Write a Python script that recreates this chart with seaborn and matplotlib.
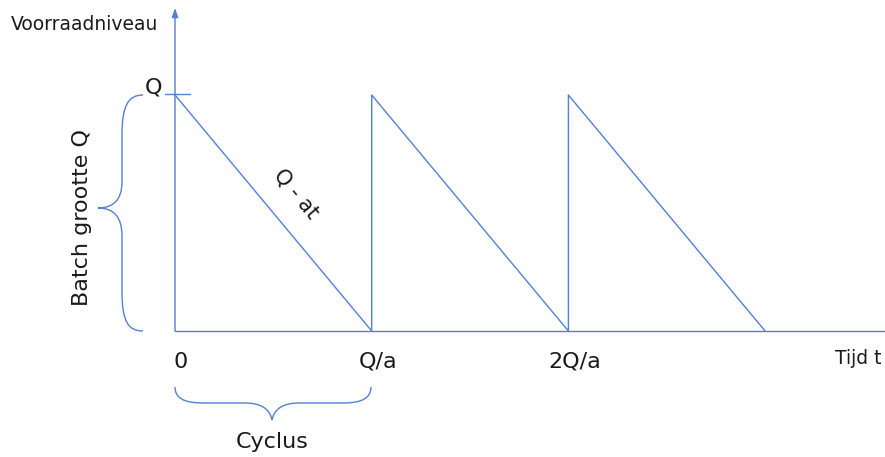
import numpy as np
import pandas as pd
import seaborn as sns
import matplotlib
matplotlib.use("Agg")
import matplotlib.pyplot as plt
from matplotlib.path import Path
from matplotlib.patches import PathPatch
from matplotlib.transforms import Affine2D

# ---- data (x in units of Q/a, y in units of Q) ----
saw_x = [0, 1, 1, 2, 2, 3]
saw_y = [1, 0, 1, 0, 1, 0]
tick_pos = [0, 1, 2]
tick_labels = ["0", "Q/a", "2Q/a"]

W, H = 885, 457
BLUE = "#5480D4"

sns.set_theme(style="white")
plt.rcParams['font.family'] = ['DejaVu Sans']

fig = plt.figure(figsize=(W / 100, H / 100), dpi=100)
ax = fig.add_axes([0, 0, 1, 1])
# pixel mapping: x_px = 175 + 196.7*x ; y_px = 331 - 236*y
ax.set_xlim(-175 / 196.7, (W - 175) / 196.7)
ax.set_ylim((331 - H) / 236, 331 / 236)
ax.axis("off")

df = pd.DataFrame({"t": saw_x, "voorraad": saw_y})
sns.lineplot(data=df, x="t", y="voorraad", sort=False, estimator=None,
             color=BLUE, lw=1.0, ax=ax)

# pixel transform for annotations (origin top-left)
px = Affine2D().scale(1 / W, -1 / H).translate(0, 1) + fig.transFigure

# axes lines
ax.plot([0, (W - 175) / 196.7], [0, 0], color=BLUE, lw=1.0)
ax.annotate("", xy=(175, 8), xycoords=px, xytext=(175, 331), textcoords=px,
            arrowprops=dict(arrowstyle="-|>,head_length=0.45,head_width=0.16",
                            color=BLUE, lw=1.0, shrinkA=0, shrinkB=0))
# Q tick
ax.plot([165, 190], [94, 94], color=BLUE, lw=1.0, transform=px)

# braces
def brace_patch(verts, codes):
    return PathPatch(Path(verts, codes), fill=False, edgecolor=BLUE, lw=1.0,
                     transform=px)

C, L, M = Path.CURVE4, Path.LINETO, Path.MOVETO
lc = [M, C, C, C, L, C, C, C, C, C, C, L, C, C, C]
lv = [(143, 95), (128, 95), (122, 106), (122, 135),
      (122, 182),
      (122, 200), (113, 208), (98, 208),
      (113, 208), (122, 216), (122, 236),
      (122, 292),
      (122, 321), (128, 331), (143, 331)]
ax.add_patch(brace_patch(lv, lc))

bv = [(175, 387), (175, 398), (184, 403), (203, 403),
      (245, 403),
      (261, 403), (270, 409), (272, 420),
      (274, 409), (283, 403), (299, 403),
      (343, 403),
      (362, 403), (371, 398), (371, 387)]
ax.add_patch(brace_patch(bv, lc))

# texts
txt = "#1a1a1a"
ax.text(11, 25, "Voorraadniveau", transform=px, fontsize=13.5, color=txt,
        ha="left", va="center")
ax.text(154, 88, "Q", transform=px, fontsize=16, color=txt, ha="center", va="center")
for p, lab in zip(tick_pos, tick_labels):
    ax.text(p + 0.03, (331 - 362) / 236, lab, fontsize=16, color=txt,
            ha="center", va="center")
ax.text(858, 358, "Tijd t", transform=px, fontsize=13.5, color=txt,
        ha="center", va="center")
ax.text(272, 442, "Cyclus", transform=px, fontsize=16, color=txt,
        ha="center", va="center")
ax.text(82, 218, "Batch grootte Q", transform=px, fontsize=16, color=txt,
        ha="center", va="center", rotation=90)
ax.text(296, 194, "Q - at", transform=px, fontsize=15, color=txt,
        ha="center", va="center", rotation=-50, rotation_mode="anchor")

fig.savefig("out.png", dpi=100)
